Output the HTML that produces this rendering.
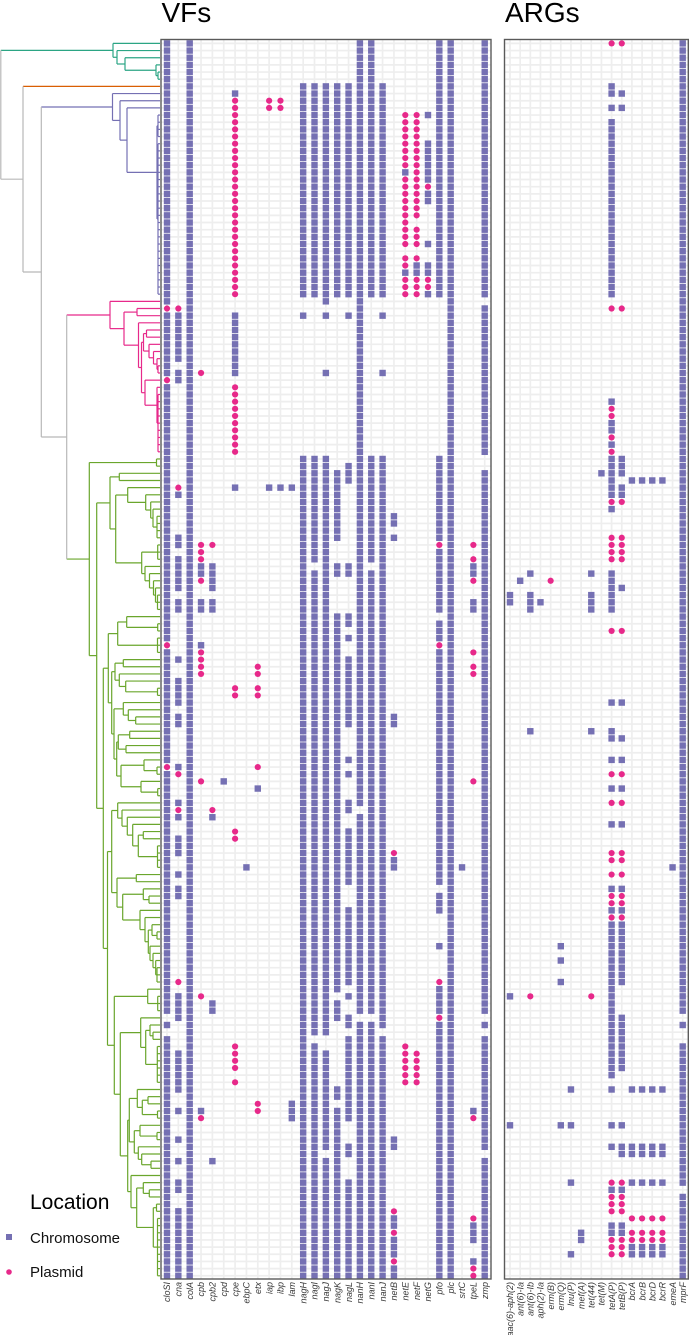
<!DOCTYPE html>
<html lang="en">
<head>
<meta charset="utf-8">
<title>VFs and ARGs by isolate</title>
<style>
html,body{margin:0;padding:0;background:#fff;}
svg{display:block;font-family:"Liberation Sans",sans-serif;}
</style>
</head>
<body>
<svg id="chart" xmlns="http://www.w3.org/2000/svg" width="689" height="1335" viewBox="0 0 689 1335">
  <rect x="0" y="0" width="689" height="1335" fill="#fff"/>
  <g id="tree" fill="none"></g>
  <g id="vf-panel"></g>
  <g id="arg-panel"></g>
  <text x="161.5" y="22" font-size="28" fill="#000">VFs</text>
  <text x="505" y="22" font-size="28" fill="#000">ARGs</text>
  <g>
    <text x="30" y="1209" font-size="21" fill="#000">Location</text>
    <rect x="6" y="1234" width="6" height="6" fill="#7570b3"/>
    <text x="30" y="1243" font-size="15" fill="#111">Chromosome</text>
    <circle cx="9" cy="1272" r="2.8" fill="#e7298a"/>
    <text x="30" y="1277" font-size="15" fill="#111">Plasmid</text>
  </g>
</svg>
<script>
const rowCount = 173;

const vfGenes = ["cloSI","cna","colA","cpb","cpb2","cpd","cpe","ebpC","etx","iap","ibp","lam","nagH","nagI","nagJ","nagK","nagL","nanH","nanI","nanJ","netB","netE","netF","netG","pfo","plc","srtC","tpeL","zmp"];
const argGenes = ["aac(6)-aph(2)","ant(6)-Ia","ant(6)-Ib","aph(2)-Ia","erm(B)","erm(Q)","lnu(P)","mef(A)","tet(44)","tet(M)","tetA(P)","tetB(P)","bcrA","bcrB","bcrD","bcrR","emeA","mprF"];

/* Isolate rows per gene; [a,b] is an inclusive run of rows */
const vfChromosome = [
  [[0,36],[38,46],[48,83],[85,100],[102,135],137,[139,172]],
  [[38,44],46,47,63,69,70,[72,76],78,79,86,[89,92],94,95,101,106,108,[111,113],116,118,119,[133,136],[141,146],149,153,156,159,160,[163,172]],
  [[0,172]],
  [73,74,78,79,84,149],
  [[73,76],78,79,108,134,135,156],
  [103],
  [7,[38,46],62],
  [115],
  [104],
  [62],
  [62],
  [62,[148,150]],
  [[6,35],38,[58,172]],
  [[6,35],[58,72],[74,138],[140,172]],
  [[6,36],38,46,[58,138],[141,154],[156,172]],
  [[6,35],[60,69],73,74,[80,132],[134,136],146,147,[149,172]],
  [[6,35],38,[59,61],73,74,80,81,83,[86,95],100,102,106,107,[110,117],[121,131],133,136,137,[139,150],154,155,[159,172]],
  [[0,106],[108,135],[137,172]],
  [[0,35],[58,72],[74,135],[137,172]],
  [[6,35],38,46,[58,137],[139,172]],
  [66,67,69,94,95,114,115,153,154,164,165,[167,169],171,172],
  [18,32],
  [31,32],
  [10,[14,19],21,22,28,31,32,35],
  [[0,35],[58,69],[71,79],[81,83],[85,117],[119,121],126,[132,135],[137,172]],
  [[0,172]],
  [115],
  [73,74,78,79,149,[165,167],170],
  [[0,35],[37,57],[60,135],137,[139,154],[156,172]]
];
const vfPlasmid = [
  [37,47,84,101],
  [37,62,102,107,131],
  [],
  [46,[70,72],75,[85,88],103,133,150],
  [70,107],
  [],
  [[8,35],[48,57],90,91,110,111,[140,143],145],
  [],
  [87,88,90,91,101,148,149],
  [8,9],
  [8,9],
  [],[],[],[],[],[],[],[],[],
  [113,163,166,170],
  [[10,17],[19,28],30,31,[33,35],[140,145]],
  [[10,24],[26,28],30,[33,35],[141,145]],
  [20,33,34],
  [70,84,131,136],
  [],
  [],
  [70,72,75,85,87,88,103,150,164,171,172],
  []
];
const argChromosome = [
  [77,78,133,151],
  [75],
  [74,[77,79],96],
  [78],
  [],
  [126,128,131,151],
  [146,151,159,169],
  [166,167],
  [74,[77,79],96],
  [60],
  [6,7,9,[11,35],50,53,54,56,[58,63],65,[74,79],92,96,97,100,104,109,118,121,[123,144],146,151,154,160,165,166],
  [7,9,[58,60],62,63,76,92,97,100,104,109,118,121,[123,131],[136,143],151,154,155,160,165,166],
  [61,146,154,155,159,168,169],
  [61,146,154,155,159,168,169],
  [61,146,154,155,159,168,169],
  [61,146,154,155,159,168,169],
  [115],
  [[0,135],137,[140,159],[161,172]]
];
const argPlasmid = [
  [],[],[133],[],[75],[],[],[],[133],[],
  [0,37,51,52,55,57,64,[69,72],82,102,106,113,114,116,119,120,122,159,[161,163],[167,169]],
  [0,37,64,[69,72],82,102,106,113,114,116,119,120,122,159,[161,163],[167,169]],
  [164,166,167],[164,166,167],[164,166,167],[164,166,167],
  [],
  []
];

/* Tree: node = [branching depth, ...children]; 0 is a tip, tips take successive rows */
const tealClade = [113,0,[117,0,[125,0,[156,0,[158,0,0]]]]];
const purpleClade = [112.5,0,[120,0,[127,0,[157,[158,0,0,0,0],[158,0,0,0,0,0,0,0,0,0,0,0,0,0,0,0,0,0,0,0,0,0,0]]]]];
const pinkClade = [110,0,[124,[137,0,0],[138.5,0,[141.5,[143.5,[146.5,0,0],[149,0,[153.5,0,[157,0,[158,0,0]]]]],[145,0,[157,0,[158,0,0,0,0,0,0,0,0,0]]]]]]];

const greenA = [156.5,0,0];
const greenC1 = [119.3,0,0];
const greenC2 = [127.7,0,[145.7,0,[150.7,0,[153,0,[157,0,0,0,0]]]]];
const greenC3 = [141.7,[157.7,0,0,0],[145,0,[149.5,0,[153.5,0,[155.5,0,[157.5,0,0,0]]]]]];
const greenC = [110,greenC1,[115.7,greenC2,greenC3]];

const greenR1 = [117.7,[126.7,0,[157.7,0,0]],[157.5,0,0,0]];
const greenR2 = [115,[123.3,0,0],[119.3,0,[125.7,0,[157.5,0,0]]]];
const greenR3 = [123.3,0,[128.3,0,[135.7,0,0]]];
const greenR4 = [118.3,[129.7,0,0],[126,0,0]];
const greenR5 = [121,[144,0,[157,0,0]],[141,0,[157.7,0,0]]];
const greenR = [108.3,greenR1,[111.7,greenR2,[114,greenR3,[116.7,greenR4,greenR5]]]];

const greenS1 = [117.7,0,[122,0,[127.3,0,[132.7,0,[138.3,[143.3,0,0],[157.5,0,0,0,0]]]]]];
const greenS2 = [143.3,0,[149,0,0]];
const greenS3 = [140,0,[145,0,[148.3,[152,0,[157,0,0]],[150,0,[153,0,[155.7,0,[157,0,0,0]]]]]]];
const greenS4 = [117,[136.3,0,0],[122.7,greenS2,greenS3]];
const greenT1 = [147.7,0,[157.7,0,0,0]];
const greenT2 = [140.7,0,[145.7,[150,0,[153,0,0]],[157.3,0,0,0,0,0,0]]];
const greenT3 = [137.3,0,[142.3,[148,0,0],[157.5,0,0]]];
const greenT4 = [134.3,[140,0,[157,0,0]],[138.3,0,[141.7,0,[151,0,0]]]];
const greenT5 = [131,0,[136.7,[143.3,0,[149.3,0,0]],[153.3,[156.5,0,0],[157.5,0,0,0,0,0,0,0,0,0]]]];
const greenT = [114.3,greenT1,[120.3,greenT2,[127.7,[129.3,greenT3,greenT4],greenT5]]];
const greenClade = [89.3,greenA,[96.7,greenC,[103.3,greenR,[107.5,[111.7,greenS1,greenS4],greenT]]]];

const NS = "http://www.w3.org/2000/svg";
const chromosomeColor = "#7570b3";
const plasmidColor = "#e7298a";
const backboneColor = "#b8b8b8";
const gridColor = "#eeeeee";
const tipX = 160;
const panelTop = 40, panelBottom = 1279;
const squareSize = 6.4;

function rowY(r){ return 43.4 + r * 7.165; }
function vfX(c){ return 167 + c * 11.347; }
function argX(c){ return 510 + c * 10.16; }

function expand(list){
  const out = [];
  list.forEach(function(item){
    if (Array.isArray(item)) { for (let r = item[0]; r <= item[1]; r++) out.push(r); }
    else out.push(item);
  });
  return out;
}

function addLine(parent, x1, y1, x2, y2, color, width){
  const el = document.createElementNS(NS, "line");
  el.setAttribute("x1", x1);
  el.setAttribute("y1", y1);
  el.setAttribute("x2", x2);
  el.setAttribute("y2", y2);
  el.setAttribute("stroke", color);
  el.setAttribute("stroke-width", width);
  parent.appendChild(el);
  return el;
}

function drawPanel(group, genes, chromosome, plasmid, xScale, left, right, prefix){
  for (let r = 0; r < rowCount; r++) {
    const gridH = addLine(group, left, rowY(r), right, rowY(r), gridColor, 1.7);
    
    
  }
  genes.forEach(function(gene, c){
    const gridV = addLine(group, xScale(c), panelTop, xScale(c), panelBottom, gridColor, 1.7);
    
    
  });
  genes.forEach(function(gene, c){
    expand(chromosome[c]).forEach(function(r){
      const sq = document.createElementNS(NS, "rect");
      
      
      sq.setAttribute("x", xScale(c) - squareSize / 2);
      sq.setAttribute("y", rowY(r) - squareSize / 2);
      sq.setAttribute("width", squareSize);
      sq.setAttribute("height", squareSize);
      sq.setAttribute("fill", chromosomeColor);
      group.appendChild(sq);
    });
    expand(plasmid[c]).forEach(function(r){
      const dot = document.createElementNS(NS, "circle");
      
      
      dot.setAttribute("cx", xScale(c));
      dot.setAttribute("cy", rowY(r));
      dot.setAttribute("r", 3.1);
      dot.setAttribute("fill", plasmidColor);
      group.appendChild(dot);
    });
    const label = document.createElementNS(NS, "text");
    
    
    label.setAttribute("transform", "translate(" + (xScale(c) + 3.2) + ",1282) rotate(-90)");
    label.setAttribute("text-anchor", "end");
    label.setAttribute("font-size", "9");
    label.setAttribute("font-style", "italic");
    label.setAttribute("fill", "#3a3a3a");
    label.textContent = gene;
    group.appendChild(label);
  });
  const frame = document.createElementNS(NS, "rect");
  
  
  frame.setAttribute("x", left);
  frame.setAttribute("y", panelTop - 0.5);
  frame.setAttribute("width", right - left);
  frame.setAttribute("height", panelBottom - panelTop + 0.5);
  frame.setAttribute("fill", "none");
  frame.setAttribute("stroke", "#5a5a5a");
  frame.setAttribute("stroke-width", "1.4");
  group.appendChild(frame);
}

drawPanel(document.getElementById("vf-panel"), vfGenes, vfChromosome, vfPlasmid, vfX, 161, 491, "vf");
drawPanel(document.getElementById("arg-panel"), argGenes, argChromosome, argPlasmid, argX, 504.5, 688.3, "arg");

/* Tree layout: a tip takes the next row; a node sits midway between its outer children */
const treeGroup = document.getElementById("tree");
let nextRow = 0;

function treeSegment(x1, y1, x2, y2, color){
  const seg = addLine(treeGroup, x1, y1, x2, y2, color, 1.2);
  
  
}

function drawNode(node, color, parentX, edgeColor){
  if (node === 0) {
    const y = rowY(nextRow);
    nextRow += 1;
    treeSegment(parentX, y, tipX, y, edgeColor);
    return y;
  }
  const x = node[0];
  const ys = [];
  for (let i = 1; i < node.length; i++) ys.push(drawNode(node[i], color, x, color));
  const first = ys[0], last = ys[ys.length - 1];
  treeSegment(x, first, x, last, color);
  const y = (first + last) / 2;
  if (parentX !== null) treeSegment(parentX, y, x, y, edgeColor);
  return y;
}

const tealY = drawNode(tealClade, "#2ba584", 0.8, "#2ba584");
const orangeY = drawNode(0, "#d95f02", 23, "#d95f02");
const purpleY = drawNode(purpleClade, "#7570b3", 41.3, "#7570b3");
const pinkY = drawNode(pinkClade, "#e7298a", 66.7, "#e7298a");
const greenY = drawNode(greenClade, "#6aa62c", 66.7, "#6aa62c");

const node66Y = (pinkY + greenY) / 2;
treeSegment(66.7, pinkY, 66.7, greenY, backboneColor);
treeSegment(41.3, node66Y, 66.7, node66Y, backboneColor);
const node41Y = (purpleY + node66Y) / 2;
treeSegment(41.3, purpleY, 41.3, node66Y, backboneColor);
treeSegment(23, node41Y, 41.3, node41Y, backboneColor);
const node23Y = (orangeY + node41Y) / 2;
treeSegment(23, orangeY, 23, node41Y, backboneColor);
treeSegment(0.8, node23Y, 23, node23Y, backboneColor);
treeSegment(0.8, tealY, 0.8, node23Y, backboneColor);
</script>
</body>
</html>
